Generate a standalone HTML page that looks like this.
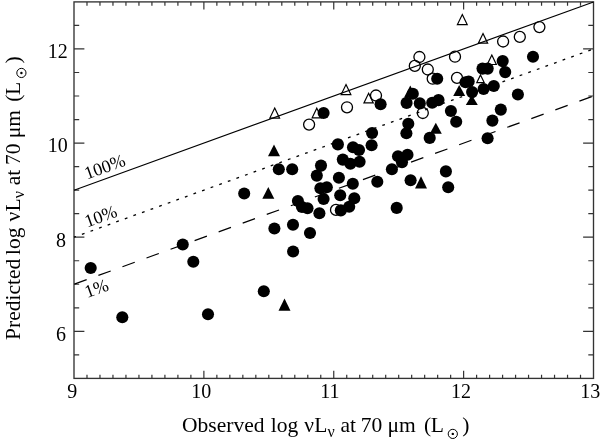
<!DOCTYPE html><html><head><meta charset="utf-8"><style>html,body{margin:0;padding:0;background:#fff;}svg{display:block;will-change:transform;}text{font-family:"Liberation Serif",serif;fill:#000;}</style></head><body>
<svg width="600" height="441" viewBox="0 0 600 441">
<rect width="600" height="441" fill="#fff"/>
<path d="M86.99 378.4v-3.77M86.99 1.9v3.77M99.97 378.4v-3.77M99.97 1.9v3.77M112.96 378.4v-3.77M112.96 1.9v3.77M125.95 378.4v-3.77M125.95 1.9v3.77M138.94 378.4v-3.77M138.94 1.9v3.77M151.92 378.4v-3.77M151.92 1.9v3.77M164.91 378.4v-3.77M164.91 1.9v3.77M177.9 378.4v-3.77M177.9 1.9v3.77M190.89 378.4v-3.77M190.89 1.9v3.77M203.88 378.4v-7.53M203.88 1.9v7.53M216.86 378.4v-3.77M216.86 1.9v3.77M229.85 378.4v-3.77M229.85 1.9v3.77M242.84 378.4v-3.77M242.84 1.9v3.77M255.83 378.4v-3.77M255.83 1.9v3.77M268.81 378.4v-3.77M268.81 1.9v3.77M281.8 378.4v-3.77M281.8 1.9v3.77M294.79 378.4v-3.77M294.79 1.9v3.77M307.78 378.4v-3.77M307.78 1.9v3.77M320.76 378.4v-3.77M320.76 1.9v3.77M333.75 378.4v-7.53M333.75 1.9v7.53M346.74 378.4v-3.77M346.74 1.9v3.77M359.72 378.4v-3.77M359.72 1.9v3.77M372.71 378.4v-3.77M372.71 1.9v3.77M385.7 378.4v-3.77M385.7 1.9v3.77M398.69 378.4v-3.77M398.69 1.9v3.77M411.67 378.4v-3.77M411.67 1.9v3.77M424.66 378.4v-3.77M424.66 1.9v3.77M437.65 378.4v-3.77M437.65 1.9v3.77M450.64 378.4v-3.77M450.64 1.9v3.77M463.62 378.4v-7.53M463.62 1.9v7.53M476.61 378.4v-3.77M476.61 1.9v3.77M489.6 378.4v-3.77M489.6 1.9v3.77M502.59 378.4v-3.77M502.59 1.9v3.77M515.58 378.4v-3.77M515.58 1.9v3.77M528.56 378.4v-3.77M528.56 1.9v3.77M541.55 378.4v-3.77M541.55 1.9v3.77M554.54 378.4v-3.77M554.54 1.9v3.77M567.53 378.4v-3.77M567.53 1.9v3.77M580.51 378.4v-3.77M580.51 1.9v3.77M74 354.87h5.2M593.5 354.87h-5.2M74 331.34h10.39M593.5 331.34h-10.39M74 307.81h5.2M593.5 307.81h-5.2M74 284.27h5.2M593.5 284.27h-5.2M74 260.74h5.2M593.5 260.74h-5.2M74 237.21h10.39M593.5 237.21h-10.39M74 213.68h5.2M593.5 213.68h-5.2M74 190.15h5.2M593.5 190.15h-5.2M74 166.62h5.2M593.5 166.62h-5.2M74 143.09h10.39M593.5 143.09h-10.39M74 119.56h5.2M593.5 119.56h-5.2M74 96.02h5.2M593.5 96.02h-5.2M74 72.49h5.2M593.5 72.49h-5.2M74 48.96h10.39M593.5 48.96h-10.39M74 25.43h5.2M593.5 25.43h-5.2" stroke="#333" stroke-width="1.2" fill="none"/>
<rect x="74" y="1.9" width="519.5" height="376.5" fill="none" stroke="#333" stroke-width="1.35"/>
<line x1="74" y1="190.15" x2="593.5" y2="1.9" stroke="#000" stroke-width="1.1"/>
<line x1="74" y1="237.21" x2="593.5" y2="48.96" stroke="#000" stroke-width="1.3" stroke-dasharray="2.8 6.33" stroke-dashoffset="0.744"/>
<line x1="74" y1="284.27" x2="593.5" y2="96.02" stroke="#000" stroke-width="1.2" stroke-dasharray="13.1 12.48" stroke-dashoffset="-0.37"/>
<g fill="#000"><circle cx="336" cy="209.9" r="5.5" fill="none" stroke="#000" stroke-width="1.3"/><circle cx="309.1" cy="124.6" r="5.5" fill="none" stroke="#000" stroke-width="1.3"/><circle cx="347" cy="107.3" r="5.5" fill="none" stroke="#000" stroke-width="1.3"/><circle cx="376" cy="95.5" r="5.5" fill="none" stroke="#000" stroke-width="1.3"/><circle cx="422.8" cy="113" r="5.5" fill="none" stroke="#000" stroke-width="1.3"/><circle cx="419.4" cy="57" r="5.5" fill="none" stroke="#000" stroke-width="1.3"/><circle cx="414.8" cy="65.9" r="5.5" fill="none" stroke="#000" stroke-width="1.3"/><circle cx="427.8" cy="69.5" r="5.5" fill="none" stroke="#000" stroke-width="1.3"/><circle cx="432.7" cy="78.7" r="5.5" fill="none" stroke="#000" stroke-width="1.3"/><circle cx="455" cy="56.7" r="5.5" fill="none" stroke="#000" stroke-width="1.3"/><circle cx="457" cy="77.9" r="5.5" fill="none" stroke="#000" stroke-width="1.3"/><circle cx="503.1" cy="41.5" r="5.5" fill="none" stroke="#000" stroke-width="1.3"/><circle cx="519.8" cy="36.9" r="5.5" fill="none" stroke="#000" stroke-width="1.3"/><circle cx="539.4" cy="27.1" r="5.5" fill="none" stroke="#000" stroke-width="1.3"/><path d="M274.7 108.1L279.55 118.1L269.85 118.1Z" fill="none" stroke="#000" stroke-width="1.2" stroke-linejoin="miter"/><path d="M316.8 108.2L321.45 117.8L312.15 117.8Z" fill="none" stroke="#000" stroke-width="1.2" stroke-linejoin="miter"/><path d="M346 84.6L350.85 94.6L341.15 94.6Z" fill="none" stroke="#000" stroke-width="1.2" stroke-linejoin="miter"/><path d="M368.6 93.3L373.25 102.9L363.95 102.9Z" fill="none" stroke="#000" stroke-width="1.2" stroke-linejoin="miter"/><path d="M480.5 74.9L484.2 82.6L476.8 82.6Z" fill="none" stroke="#000" stroke-width="1.2" stroke-linejoin="miter"/><path d="M491.8 55.1L496.35 64.5L487.25 64.5Z" fill="none" stroke="#000" stroke-width="1.2" stroke-linejoin="miter"/><path d="M462.3 14.5L467.2 24.6L457.4 24.6Z" fill="none" stroke="#000" stroke-width="1.2" stroke-linejoin="miter"/><path d="M483 33.6L487.65 43.2L478.35 43.2Z" fill="none" stroke="#000" stroke-width="1.2" stroke-linejoin="miter"/><circle cx="90.7" cy="268" r="6.05"/><circle cx="122.3" cy="317.3" r="6.05"/><circle cx="182.75" cy="244.5" r="6.05"/><circle cx="193.3" cy="261.7" r="6.05"/><circle cx="208" cy="314.3" r="6.05"/><circle cx="263.8" cy="291.3" r="6.05"/><circle cx="244.2" cy="193.5" r="6.05"/><circle cx="274.4" cy="228.5" r="6.05"/><circle cx="293" cy="224.8" r="6.05"/><circle cx="310" cy="233" r="6.05"/><circle cx="293.1" cy="251.5" r="6.05"/><circle cx="278.8" cy="169.2" r="6.05"/><circle cx="292.2" cy="169.2" r="6.05"/><circle cx="321" cy="165.6" r="6.05"/><circle cx="316.8" cy="175.6" r="6.05"/><circle cx="320.4" cy="188.2" r="6.05"/><circle cx="326.8" cy="187.2" r="6.05"/><circle cx="323.6" cy="199" r="6.05"/><circle cx="297.9" cy="201" r="6.05"/><circle cx="302" cy="207" r="6.05"/><circle cx="307.5" cy="208.2" r="6.05"/><circle cx="319.4" cy="213.2" r="6.05"/><circle cx="340.2" cy="195.3" r="6.05"/><circle cx="354.3" cy="198.2" r="6.05"/><circle cx="349.2" cy="206.8" r="6.05"/><circle cx="340.8" cy="210.4" r="6.05"/><circle cx="338.9" cy="177.7" r="6.05"/><circle cx="352.8" cy="183.7" r="6.05"/><circle cx="377.3" cy="181.8" r="6.05"/><circle cx="337.9" cy="144.4" r="6.05"/><circle cx="353" cy="147.2" r="6.05"/><circle cx="359" cy="150" r="6.05"/><circle cx="342.8" cy="159.6" r="6.05"/><circle cx="350.4" cy="163.8" r="6.05"/><circle cx="359.6" cy="161.8" r="6.05"/><circle cx="372.1" cy="133" r="6.05"/><circle cx="371.6" cy="145.2" r="6.05"/><circle cx="323.6" cy="113" r="6.05"/><circle cx="380.6" cy="104.3" r="6.05"/><circle cx="391.9" cy="169.2" r="6.05"/><circle cx="398" cy="156.2" r="6.05"/><circle cx="402" cy="162.3" r="6.05"/><circle cx="407.5" cy="154.7" r="6.05"/><circle cx="406.4" cy="133.2" r="6.05"/><circle cx="408.3" cy="123.7" r="6.05"/><circle cx="410.6" cy="180.2" r="6.05"/><circle cx="445.9" cy="171.4" r="6.05"/><circle cx="448.2" cy="187.2" r="6.05"/><circle cx="396.7" cy="207.9" r="6.05"/><circle cx="429.7" cy="137.9" r="6.05"/><circle cx="450.9" cy="111" r="6.05"/><circle cx="456.2" cy="121.8" r="6.05"/><circle cx="406.6" cy="102.9" r="6.05"/><circle cx="419.8" cy="103.4" r="6.05"/><circle cx="432.2" cy="102.7" r="6.05"/><circle cx="438.5" cy="100.1" r="6.05"/><circle cx="412.8" cy="93.8" r="6.05"/><circle cx="437.2" cy="78.7" r="6.05"/><circle cx="465.5" cy="82.3" r="6.05"/><circle cx="468.7" cy="81.5" r="6.05"/><circle cx="472.1" cy="92.1" r="6.05"/><circle cx="483.6" cy="89" r="6.05"/><circle cx="493.8" cy="86" r="6.05"/><circle cx="482.5" cy="68.6" r="6.05"/><circle cx="487.7" cy="68.6" r="6.05"/><circle cx="502.7" cy="61.1" r="6.05"/><circle cx="505.2" cy="72.1" r="6.05"/><circle cx="517.9" cy="94.5" r="6.05"/><circle cx="500.8" cy="109.6" r="6.05"/><circle cx="492.4" cy="120.6" r="6.05"/><circle cx="487.6" cy="138.3" r="6.05"/><circle cx="533" cy="56.7" r="6.05"/><path d="M284.5 298.6L290.5 310.7L278.5 310.7Z"/><path d="M268.3 187L274.3 198.7L262.3 198.7Z"/><path d="M274 144.5L280 156.3L268 156.3Z"/><path d="M421 176.3L427 188.6L415 188.6Z"/><path d="M435.8 122.7L441.8 133.7L429.8 133.7Z"/><path d="M410.3 85.4L416.3 97L404.3 97Z"/><path d="M459.2 85L465.2 96L453.2 96Z"/><path d="M471.8 94.9L477.8 105L465.8 105Z"/></g>
<g font-size="20">
<text x="72.3" y="397.6" text-anchor="middle">9</text>
<text x="201.3" y="397.6" text-anchor="middle">10</text>
<text x="330" y="397.6" text-anchor="middle">11</text>
<text x="461.1" y="397.6" text-anchor="middle">12</text>
<text x="590.2" y="397.6" text-anchor="middle">13</text>
<text x="67.8" y="57.8" text-anchor="end">12</text>
<text x="67.8" y="152.4" text-anchor="end">10</text>
<text x="66" y="246.6" text-anchor="end">8</text>
<text x="66" y="340.8" text-anchor="end">6</text>
</g>
<text font-size="18" transform="translate(87,179.55) rotate(-19.93)">100%</text>
<text font-size="18" transform="translate(87.25,227.45) rotate(-19.93)">10%</text>
<text font-size="18" transform="translate(87.25,298) rotate(-19.93)">1%</text>
<g font-size="21.5"><text x="182.1" y="432">Observed</text><text x="270.8" y="432">log</text><text x="304.26" y="432">ν</text><text x="314.2" y="432">L</text><text x="340.5" y="432">at</text><text x="360.7" y="432">70</text><text x="387.46" y="432">μm</text><text x="424.05" y="432">(</text><text x="430.7" y="432">L</text><text x="462.3" y="432">)</text><text x="327.6" y="436.8" font-size="16">ν</text><circle cx="452.8" cy="433.9" r="4.6" fill="none" stroke="#000" stroke-width="1"/><circle cx="452.8" cy="433.9" r="1.2" fill="#000"/></g>
<g font-size="21.5" transform="translate(19.5,339.25) rotate(-90) translate(-183,-432)"><text x="182.38" y="432">Predicted</text><text x="267.3" y="432">log</text><text x="300.76" y="432">ν</text><text x="310.7" y="432">L</text><text x="337" y="432">at</text><text x="357.2" y="432">70</text><text x="383.96" y="432">μm</text><text x="420.55" y="432">(</text><text x="427.2" y="432">L</text><text x="458.8" y="432">)</text><text x="324.1" y="436.8" font-size="16">ν</text><circle cx="449.3" cy="433.9" r="4.6" fill="none" stroke="#000" stroke-width="1"/><circle cx="449.3" cy="433.9" r="1.2" fill="#000"/></g>
</svg></body></html>
